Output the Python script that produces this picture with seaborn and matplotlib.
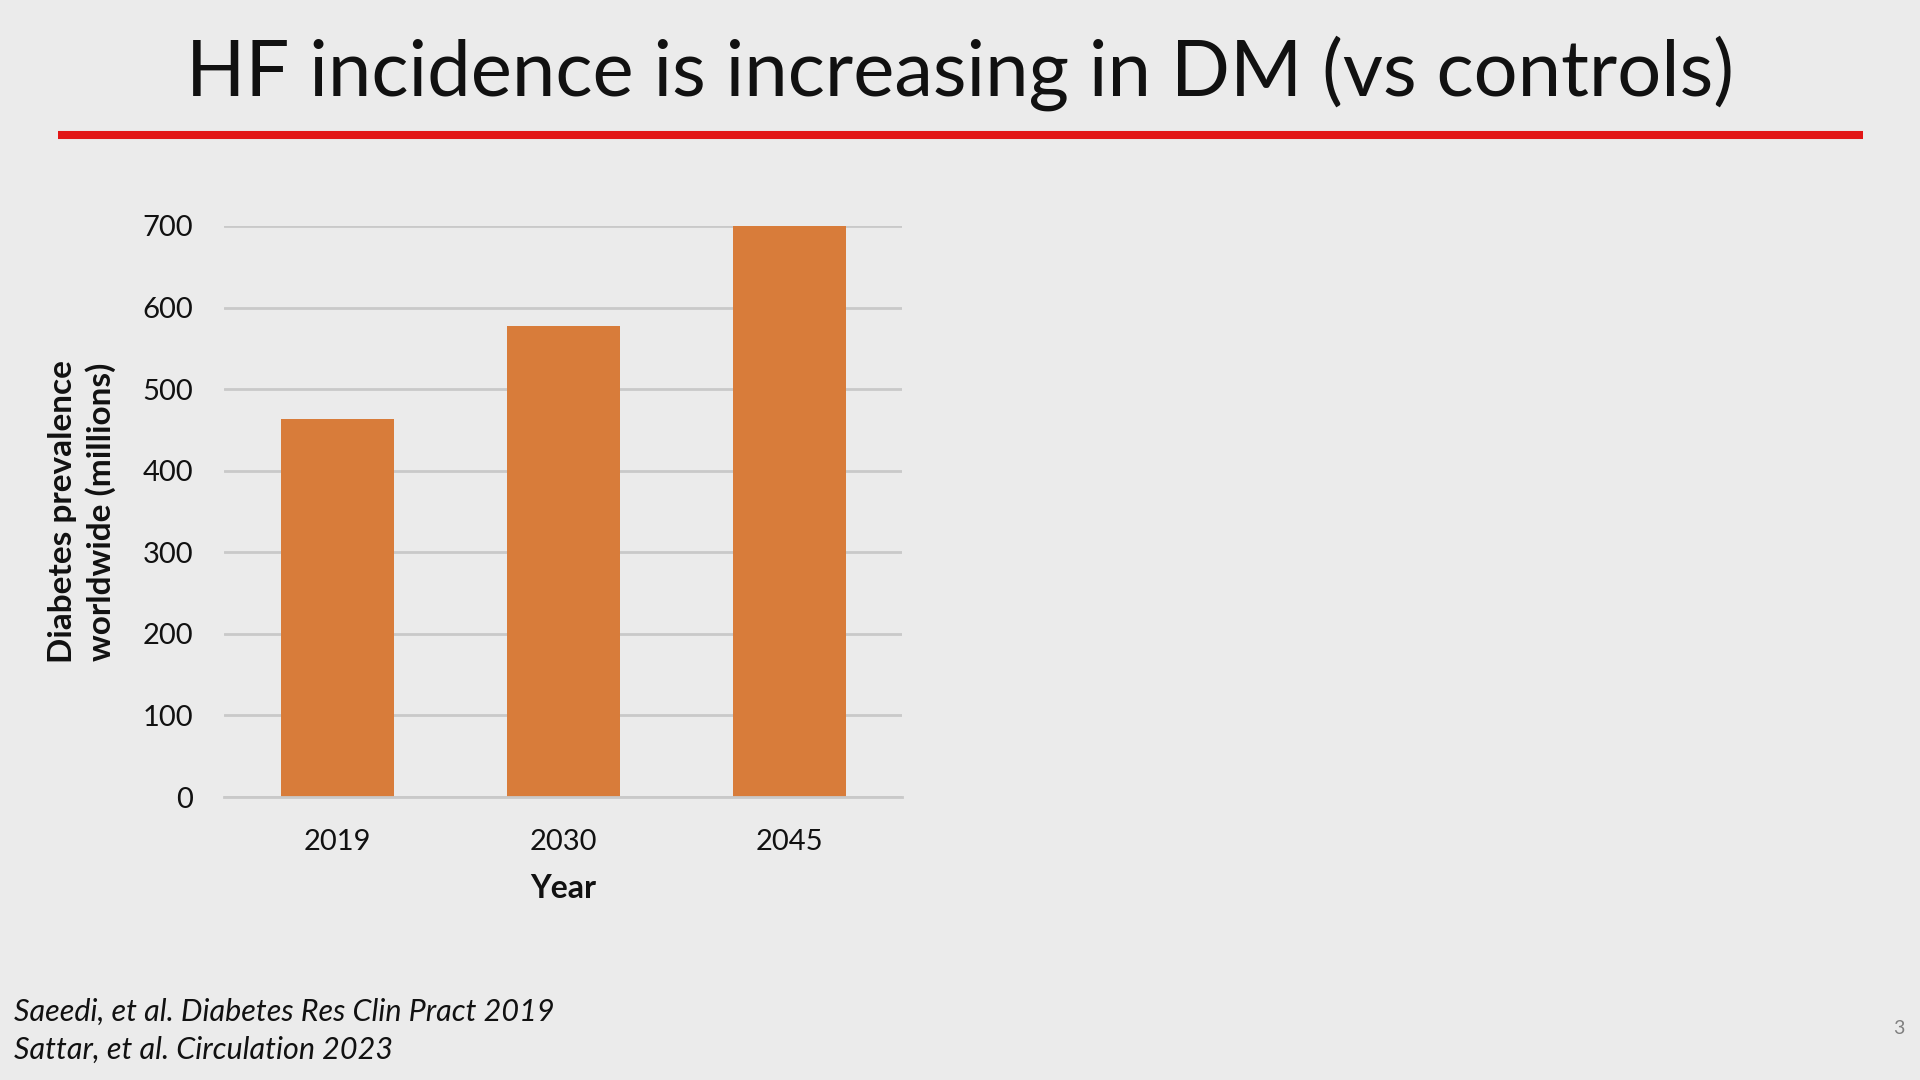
import matplotlib
matplotlib.use("Agg")
import matplotlib.pyplot as plt
import seaborn as sns
import pandas as pd

# data
years = ["2019", "2030", "2045"]
prevalence = [463, 578, 700]
y_ticks = [0, 100, 200, 300, 400, 500, 600, 700]

title = "HF incidence is increasing in DM (vs controls)"
y_label = "Diabetes prevalence\nworldwide (millions)"
x_label = "Year"
refs = ["Saeedi, et al. Diabetes Res Clin Pract 2019",
        "Sattar, et al. Circulation 2023"]
page_no = "3"

BG = "#EBEBEB"
BAR = "#D87C3A"
GRID = "#C9C9C9"
RED = "#E21616"

sns.set_theme(style="white")
plt.rcParams["font.family"] = ["Lato", "DejaVu Sans"]

df = pd.DataFrame({"year": years, "prev": prevalence})

W, H = 1920, 1080
fig = plt.figure(figsize=(19.2, 10.8), dpi=100, facecolor=BG)

# axes box in pixel coords: x 224..902, y 226..797
ax = fig.add_axes([224 / W, 1 - 797 / H, (902 - 224) / W, (797 - 226) / H])
ax.set_facecolor(BG)
sns.barplot(data=df, x="year", y="prev", color=BAR, width=0.5,
            saturation=1, linewidth=0, edgecolor=BAR, ax=ax, zorder=3)
ax.set_xlim(-0.5, 2.5)
ax.set_ylim(0, 700)
ax.set_yticks(y_ticks)
ax.yaxis.grid(True, color=GRID, linewidth=2, zorder=0)
ax.xaxis.grid(False)
for s in ["top", "right", "left"]:
    ax.spines[s].set_visible(False)
ax.spines["bottom"].set_color(GRID)
ax.spines["bottom"].set_linewidth(2)
ax.spines["bottom"].set_zorder(4)
ax.tick_params(axis="both", length=0, labelsize=21, colors="#111111")
ax.tick_params(axis="y", pad=22)
ax.tick_params(axis="x", pad=23)
ax.set_xlabel(x_label, fontsize=23, fontweight="bold", color="#111111", labelpad=14)
ax.set_ylabel(y_label, fontsize=24, fontweight="bold", color="#111111", labelpad=19,
              linespacing=1.33)

# slide title and red rule
fig.text(0.5, 1 - 73 / H, title, ha="center", va="center", fontsize=56, color="#111111")
fig.add_artist(plt.Line2D([58 / W, 1863 / W], [1 - 135 / H, 1 - 135 / H],
                          color=RED, linewidth=5.8, solid_capstyle="butt"))

# references and page number
fig.text(14 / W, 1 - 1021 / H, refs[0], ha="left", va="baseline", fontsize=22,
         style="italic", color="#111111")
fig.text(14 / W, 1 - 1059 / H, refs[1], ha="left", va="baseline", fontsize=22,
         style="italic", color="#111111")
fig.text(1899 / W, 1 - 1029 / H, page_no, ha="center", va="center", fontsize=14,
         color="#808080")

fig.savefig("out.png", dpi=100, facecolor=BG)
